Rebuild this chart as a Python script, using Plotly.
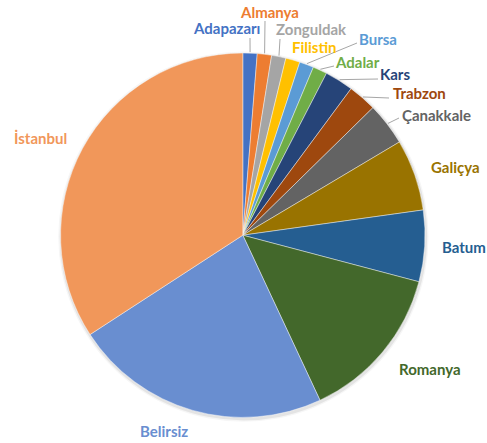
import math
import plotly.graph_objects as go

# Counts per place, in clockwise order starting at 12 o'clock
places = ["Adapazarı", "Almanya", "Zonguldak", "Filistin", "Bursa", "Adalar", "Kars",
          "Trabzon", "Çanakkale", "Galiçya", "Batum", "Romanya", "Belirsiz", "İstanbul"]
counts = [1, 1, 1, 1, 1, 1, 2, 2, 3, 5, 5, 11, 18, 27]
colors = ["#4472C4", "#ED7D31", "#A5A5A5", "#FFC000", "#5B9BD5", "#70AD47", "#264478",
          "#9E480E", "#636363", "#997300", "#255E91", "#43682B", "#698ED0", "#F1975A"]

# Label centres (pixels) and leader-line anchor points next to the labels
label_pos = {
    "Adapazarı": (226, 28), "Almanya": (269, 12), "Zonguldak": (311, 29),
    "Filistin": (314, 47), "Bursa": (378, 39), "Adalar": (357, 62),
    "Kars": (395, 74), "Trabzon": (419, 93), "Çanakkale": (436, 115),
    "Galiçya": (455, 167), "Batum": (464, 247), "Romanya": (430, 369),
    "Belirsiz": (164, 431), "İstanbul": (40, 138),
}
leader_anchor = {
    "Adapazarı": (250, 38), "Almanya": (265, 21), "Zonguldak": (280, 39),
    "Bursa": (357, 43), "Adalar": (334, 66), "Kars": (378, 79),
    "Trabzon": (389, 98), "Çanakkale": (399, 118),
}

W, H = 487, 443
CX, CY, R = 242.8, 235.2, 182.2


def px(x):
    return x / W


def py(y):
    return 1 - y / H


def domain(cx, cy, r):
    return dict(x=[px(cx - r), px(cx + r)], y=[py(cy + r), py(cy - r)])


fig = go.Figure()
total = sum(counts)

# soft drop shadow under the pie
for grow, alpha in [(3.0, 0.035), (1.6, 0.07)]:
    fig.add_trace(go.Pie(
        values=[total], labels=[""], sort=False, textinfo="none", hoverinfo="skip",
        showlegend=False, marker=dict(colors=[f"rgba(0,0,0,{alpha})"], line=dict(width=0)),
        domain=domain(CX + 0.6, CY + 1.4, R + grow),
    ))

fig.add_trace(go.Pie(
    labels=places, values=counts, sort=False, direction="clockwise", rotation=0,
    marker=dict(colors=colors, line=dict(color="rgba(255,255,255,0.7)", width=0.6)),
    textinfo="none", hoverinfo="label+value+percent", showlegend=False,
    domain=domain(CX, CY, R),
))

cum = 0
shapes, annotations = [], []
for name, v, c in zip(places, counts, colors):
    mid = math.radians((cum + v / 2) / total * 360)
    cum += v
    if name in leader_anchor:
        ex = CX + (R + 1) * math.sin(mid)
        ey = CY - (R + 1) * math.cos(mid)
        ax, ay = leader_anchor[name]
        shapes.append(dict(type="line", xref="paper", yref="paper",
                           x0=px(ex), y0=py(ey), x1=px(ax), y1=py(ay),
                           line=dict(color="#A6A6A6", width=1)))
    lx, ly = label_pos[name]
    annotations.append(dict(x=px(lx), y=py(ly), xref="paper", yref="paper",
                            text=name, showarrow=False, xanchor="center", yanchor="middle",
                            borderpad=0,
                            font=dict(family="Lato", size=15, color=c, weight="bold")))

fig.update_layout(
    width=W, height=H, margin=dict(l=0, r=0, t=0, b=0),
    paper_bgcolor="white", plot_bgcolor="white",
    shapes=shapes, annotations=annotations,
)
fig.write_html("out.html")
